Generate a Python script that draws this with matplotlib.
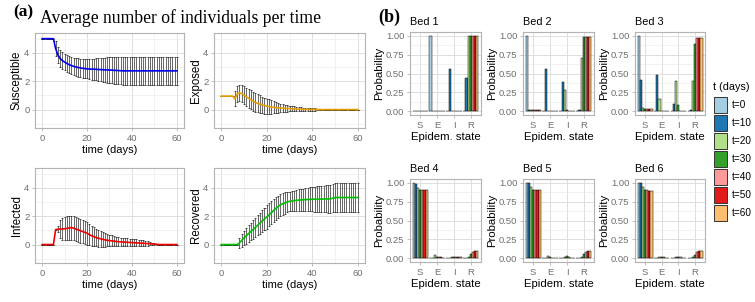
import numpy as np
import matplotlib.pyplot as plt
from matplotlib.patches import Patch

plt.rcParams['font.family'] = ['Liberation Sans Narrow', 'Liberation Sans', 'DejaVu Sans']

W, H = 755, 302

# ---- (a) average number of individuals per time ----
days = list(range(61))

S_mean = [5, 5, 5, 5, 5, 5, 4.3, 3.85, 3.6, 3.45, 3.35, 3.25, 3.17, 3.1, 3.05, 3.0,
          2.97, 2.94, 2.91, 2.89, 2.87, 2.86, 2.85, 2.85, 2.84, 2.83, 2.82, 2.81, 2.8, 2.8,
          2.79, 2.78, 2.77, 2.76, 2.75, 2.74] + [2.73] * 25
S_sd = [0, 0, 0, 0, 0, 0, 0.55, 0.57, 0.58, 0.58, 0.58, 0.59, 0.6, 0.61, 0.62, 0.63,
        0.64, 0.65, 0.66, 0.66, 0.67, 0.7, 0.73, 0.75, 0.77, 0.8, 0.82, 0.85, 0.87, 0.9,
        0.92, 0.93, 0.94, 0.95, 0.96, 0.97] + [0.98] * 25

E_mean = [0.95] * 6 + [0.75, 1.1, 1.18, 1.12, 1.02, 0.9, 0.8, 0.7, 0.6, 0.5,
                       0.44, 0.38, 0.33, 0.28, 0.24, 0.21, 0.18, 0.16, 0.14, 0.12,
                       0.11, 0.1, 0.09, 0.08, 0.07, 0.06, 0.05, 0.04, 0.03, 0.03,
                       0.02, 0.02, 0.02, 0.01, 0.01, 0.01, 0.01, 0.0] + [0.0] * 17
E_sd = [0] * 6 + [0.53, 0.55, 0.55, 0.58, 0.62, 0.65, 0.68, 0.68, 0.67, 0.66,
                  0.64, 0.62, 0.59, 0.56, 0.54, 0.5, 0.46, 0.42, 0.37, 0.33,
                  0.3, 0.27, 0.25, 0.22, 0.2, 0.19, 0.17, 0.16, 0.14, 0.13,
                  0.12, 0.11, 0.1, 0.1, 0.09, 0.08, 0.06, 0.05] + [0] * 17

I_mean = [0] * 6 + [1.05, 1.08, 1.1, 1.1, 1.12, 1.14, 1.17, 1.2, 1.16, 1.1,
                    1.04, 0.98, 0.92, 0.86, 0.8, 0.7, 0.62, 0.56, 0.5, 0.45,
                    0.41, 0.37, 0.33, 0.3, 0.28, 0.26, 0.24, 0.22, 0.2, 0.19,
                    0.18, 0.17, 0.16, 0.15, 0.14, 0.13, 0.12, 0.11, 0.1, 0.09,
                    0.08, 0.07, 0.06, 0.05, 0.04, 0.02] + [0] * 9
I_sd = [0] * 6 + [0.05, 0.2, 0.65, 0.75, 0.82, 0.84, 0.85, 0.85, 0.86, 0.87,
                  0.86, 0.85, 0.83, 0.82, 0.8, 0.76, 0.72, 0.67, 0.63, 0.59,
                  0.55, 0.51, 0.47, 0.43, 0.4, 0.38, 0.35, 0.33, 0.31, 0.3,
                  0.29, 0.28, 0.28, 0.27, 0.27, 0.26, 0.25, 0.23, 0.21, 0.2,
                  0.18, 0.16, 0.12, 0.09, 0.05, 0.02] + [0] * 9

R_mean = [0] * 8 + [0.12, 0.3, 0.47, 0.62, 0.78, 0.92, 1.06, 1.2, 1.36, 1.52,
                    1.67, 1.81, 1.95, 2.1, 2.24, 2.4, 2.55, 2.68, 2.8, 2.88,
                    2.94, 3.0, 3.05, 3.08, 3.1, 3.12, 3.14, 3.15, 3.16, 3.17,
                    3.18, 3.19, 3.2, 3.2, 3.2, 3.21, 3.21, 3.21, 3.22, 3.22,
                    3.22, 3.27] + [3.32] * 11
R_sd = [0] * 8 + [0.35, 0.45, 0.52, 0.55, 0.58, 0.62, 0.65, 0.68, 0.71, 0.74,
                  0.76, 0.79, 0.82, 0.81, 0.8, 0.8, 0.79, 0.78, 0.77, 0.76,
                  0.76, 0.72, 0.68, 0.7, 0.71, 0.73, 0.75, 0.76, 0.78, 0.8,
                  0.82, 0.84, 0.86, 0.88, 0.9, 0.91, 0.92, 0.94, 0.95, 0.96,
                  0.97, 0.98] + [0.99] * 11

# ---- (b) probability of epidemiological state per bed ----
states = ['S', 'E', 'I', 'R']
t_labels = ['t=0', 't=10', 't=20', 't=30', 't=40', 't=50', 't=60']
t_colors = ['#A6CEE3', '#1F78B4', '#B2DF8A', '#33A02C', '#FB9A99', '#E31A1C', '#FDBF6F']

# rows: t=0..60, cols: S, E, I, R
bed1 = [[0.00, 1.00, 0.00, 0.00],
        [0.00, 0.00, 0.56, 0.44],
        [0.00, 0.00, 0.00, 1.00],
        [0.00, 0.00, 0.00, 1.00],
        [0.00, 0.00, 0.00, 1.00],
        [0.00, 0.00, 0.00, 1.00],
        [0.00, 0.00, 0.00, 1.00]]
bed2 = [[1.00, 0.00, 0.00, 0.00],
        [0.02, 0.56, 0.39, 0.02],
        [0.01, 0.00, 0.28, 0.70],
        [0.01, 0.00, 0.01, 0.98],
        [0.01, 0.00, 0.00, 0.99],
        [0.01, 0.00, 0.00, 0.99],
        [0.01, 0.00, 0.00, 0.99]]
bed3 = [[1.00, 0.00, 0.00, 0.00],
        [0.42, 0.48, 0.09, 0.01],
        [0.04, 0.16, 0.40, 0.40],
        [0.03, 0.00, 0.08, 0.89],
        [0.03, 0.00, 0.00, 0.97],
        [0.03, 0.00, 0.00, 0.97],
        [0.03, 0.00, 0.00, 0.97]]
bed4 = [[1.00, 0.00, 0.00, 0.00],
        [0.99, 0.00, 0.00, 0.00],
        [0.93, 0.04, 0.01, 0.01],
        [0.91, 0.02, 0.02, 0.05],
        [0.90, 0.01, 0.02, 0.08],
        [0.90, 0.01, 0.01, 0.10],
        [0.90, 0.00, 0.01, 0.10]]
bed5 = [[1.00, 0.00, 0.00, 0.00],
        [1.00, 0.00, 0.00, 0.00],
        [0.94, 0.03, 0.01, 0.01],
        [0.91, 0.01, 0.03, 0.05],
        [0.90, 0.00, 0.01, 0.08],
        [0.90, 0.00, 0.00, 0.10],
        [0.90, 0.00, 0.00, 0.10]]
bed6 = [[1.00, 0.00, 0.00, 0.00],
        [1.00, 0.00, 0.00, 0.00],
        [0.95, 0.01, 0.02, 0.01],
        [0.91, 0.02, 0.02, 0.04],
        [0.90, 0.01, 0.01, 0.08],
        [0.89, 0.00, 0.00, 0.09],
        [0.89, 0.00, 0.00, 0.10]]

fig = plt.figure(figsize=(7.55, 3.02), dpi=100)


def add_px(x0, y0, x1, y1):
    return fig.add_axes([x0 / W, 1 - y1 / H, (x1 - x0) / W, (y1 - y0) / H])


def style(ax):
    for s in ax.spines.values():
        s.set_color('#B3B3B3')
        s.set_linewidth(0.8)
    ax.tick_params(which='both', colors='#B3B3B3', labelcolor='#6E6E6E',
                   labelsize=6.8, pad=1.5)
    ax.tick_params(which='major', length=2.5, width=0.6)
    ax.tick_params(which='minor', length=0)
    ax.grid(which='major', color='#DEDEDE', lw=0.7)
    ax.grid(which='minor', color='#EBEBEB', lw=0.45)
    ax.set_axisbelow(True)


panels = [('Susceptible', S_mean, S_sd, '#0000EE', (35, 33, 184, 128)),
          ('Exposed', E_mean, E_sd, '#E69F00', (214, 33, 365, 128)),
          ('Infected', I_mean, I_sd, '#EE0000', (35, 168, 184, 263)),
          ('Recovered', R_mean, R_sd, '#00C000', (214, 168, 365, 263))]

t = np.array(days)
for name, mean, sd, col, box in panels:
    ax = add_px(*box)
    style(ax)
    m = np.array(mean)
    s = np.array(sd)
    ax.vlines(t, m - s, m + s, color='#111111', lw=0.45)
    ax.hlines(m - s, t - 0.45, t + 0.45, color='#111111', lw=0.5)
    ax.hlines(m + s, t - 0.45, t + 0.45, color='#111111', lw=0.5)
    ax.plot(t, m, color=col, lw=1.2)
    ax.set_xlim(-3.2, 63.2)
    ax.set_ylim(-1.3, 5.4)
    ax.set_xticks([0, 20, 40, 60])
    ax.set_xticks([10, 30, 50], minor=True)
    ax.set_yticks([0, 2, 4])
    ax.set_yticks([-1, 1, 3, 5], minor=True)
    ax.set_xlabel('time (days)', fontsize=8, labelpad=2)
    ax.set_ylabel(name, fontsize=8.3, family='Liberation Sans', labelpad=1)

fig.text(13 / W, 1 - 16 / H, '(a)', family='Liberation Serif', weight='bold',
         fontsize=12.5, va='baseline')
fig.text(40 / W, 1 - 23 / H, 'Average number of individuals per time',
         family='Liberation Serif', fontsize=12.7, va='baseline')

beds = [bed1, bed2, bed3, bed4, bed5, bed6]
cols_px = [(410, 481), (523, 594), (635, 705)]
rows_px = [(32, 115), (179, 262)]
x = np.arange(1, 5)
bw = 0.9 / 7
for i, bed in enumerate(beds):
    x0, x1 = cols_px[i % 3]
    y0, y1 = rows_px[i // 3]
    ax = add_px(x0, y0, x1, y1)
    style(ax)
    vals = np.array(bed)
    for k in range(7):
        ax.bar(x + (k - 3) * bw, vals[k], width=bw, color=t_colors[k],
               edgecolor='black', linewidth=0.35)
    ax.set_xlim(0.4, 4.6)
    ax.set_ylim(-0.05, 1.05)
    ax.set_xticks(x)
    ax.set_xticklabels(states)
    ax.set_yticks([0, 0.25, 0.5, 0.75, 1.0])
    ax.set_yticklabels(['0.00', '0.25', '0.50', '0.75', '1.00'])
    ax.set_yticks([0.125, 0.375, 0.625, 0.875], minor=True)
    ax.set_xlabel('Epidem. state', fontsize=8.2, labelpad=2)
    ax.set_ylabel('Probability', fontsize=8.2, family='Liberation Sans', labelpad=1)
    ax.set_title('Bed %d' % (i + 1), loc='left', fontsize=7.8, pad=5)

fig.text(378 / W, 1 - 22 / H, '(b)', family='Liberation Serif', weight='bold',
         fontsize=13, va='baseline')

fig.text(713 / W, 1 - 87 / H, 't (days)', fontsize=7.8, va='center')
handles = [Patch(facecolor=c, edgecolor='#333333', lw=0.7) for c in t_colors]
leg = fig.legend(handles, t_labels, loc='upper left',
                 bbox_to_anchor=(714 / W, 1 - 97 / H), frameon=False, fontsize=7.2,
                 handlelength=1.3, handleheight=2.15,
                 labelspacing=0.15, handletextpad=0.5, borderaxespad=0,
                 borderpad=0)

fig.savefig('out.png', dpi=100)
